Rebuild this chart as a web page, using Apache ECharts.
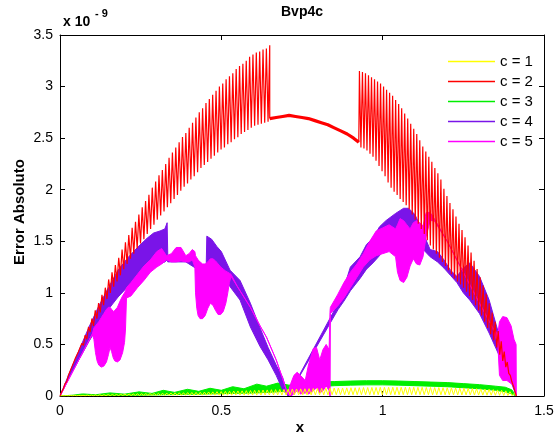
<!DOCTYPE html>
<html>
<head>
<meta charset="utf-8">
<title>Bvp4c</title>
<script src="https://cdn.jsdelivr.net/npm/echarts@6/dist/echarts.min.js"></script>
<style>
  html, body { margin: 0; padding: 0; background: #fff; }
  #chart { width: 560px; height: 438px; }
</style>
</head>
<body>
<div id="chart"></div>
<script>
// Absolute error of bvp4c solutions (units of 1e-9) for c = 1..5 over x in [0, sqrt(2)]
const seriesNames = ['c = 1', 'c = 2', 'c = 3', 'c = 4', 'c = 5'];
const seriesColors = ['#ffff00', '#ff0000', '#00ee00', '#7a14e8', '#ff00ff'];
const xTicks = [0, 0.5, 1, 1.5];
const yTicks = [0, 0.5, 1, 1.5, 2, 2.5, 3, 3.5];

// c = 1: oscillating error on an even grid
const c1Start = 0, c1Step = 0.006487;
const c1Err = [
  0,0.003,0.001,0.004,0.001,0.005,0.002,0.006,0.002,0.006,
  0.002,0.007,0.002,0.008,0.003,0.009,0.003,0.010,0.003,0.011,
  0.003,0.012,0.004,0.013,0.004,0.014,0.004,0.015,0.004,0.016,
  0.005,0.018,0.005,0.019,0.005,0.020,0.005,0.021,0.005,0.022,
  0.006,0.023,0.006,0.024,0.006,0.025,0.006,0.026,0.006,0.027,
  0.006,0.028,0.007,0.029,0.007,0.030,0.007,0.031,0.007,0.032,
  0.007,0.033,0.007,0.034,0.007,0.035,0.008,0.036,0.008,0.038,
  0.008,0.039,0.008,0.040,0.008,0.042,0.008,0.043,0.008,0.045,
  0.008,0.046,0.008,0.048,0.009,0.049,0.009,0.050,0.009,0.052,
  0.009,0.053,0.009,0.055,0.009,0.056,0.009,0.058,0.010,0.059,
  0.010,0.061,0.010,0.062,0.010,0.063,0.010,0.064,0.010,0.066,
  0.010,0.067,0.010,0.068,0.011,0.069,0.011,0.070,0.011,0.071,
  0.011,0.072,0.011,0.073,0.011,0.074,0.011,0.075,0.011,0.076,
  0.012,0.077,0.012,0.078,0.012,0.078,0.012,0.079,0.012,0.080,
  0.012,0.080,0.012,0.081,0.012,0.082,0.012,0.082,0.012,0.083,
  0.012,0.083,0.012,0.084,0.012,0.084,0.012,0.084,0.012,0.085,
  0.012,0.085,0.012,0.085,0.012,0.085,0.012,0.085,0.012,0.085,
  0.012,0.084,0.012,0.084,0.012,0.083,0.012,0.083,0.011,0.082,
  0.011,0.082,0.011,0.081,0.011,0.080,0.011,0.079,0.011,0.078,
  0.010,0.077,0.010,0.076,0.010,0.074,0.010,0.073,0.009,0.071,
  0.009,0.069,0.009,0.067,0.008,0.065,0.008,0.062,0.007,0.059,
  0.007,0.055,0.006,0.050,0.005,0.042,0.003,0.025,0.000
];

// c = 2: oscillating part on [0, 0.65]
const c2aStart = 0, c2aStep = 0.0052;
const c2aErr = [
  0,0.04,0.07,0.12,0.14,0.20,0.21,0.28,0.28,0.36,
  0.35,0.43,0.42,0.51,0.49,0.59,0.55,0.67,0.62,0.75,
  0.68,0.83,0.75,0.90,0.81,0.98,0.88,1.05,0.94,1.13,
  1.00,1.20,1.06,1.27,1.11,1.34,1.17,1.42,1.23,1.49,
  1.28,1.56,1.33,1.63,1.38,1.69,1.43,1.76,1.48,1.83,
  1.52,1.89,1.57,1.95,1.62,2.02,1.66,2.08,1.71,2.14,
  1.75,2.19,1.79,2.25,1.83,2.31,1.87,2.36,1.91,2.41,
  1.95,2.46,1.99,2.51,2.03,2.55,2.06,2.60,2.10,2.65,
  2.13,2.70,2.17,2.75,2.21,2.79,2.24,2.84,2.27,2.88,
  2.30,2.92,2.33,2.96,2.36,3.00,2.39,3.03,2.41,3.07,
  2.44,3.10,2.46,3.13,2.49,3.17,2.51,3.20,2.54,3.22,
  2.56,3.25,2.58,3.29,2.60,3.31,2.62,3.33,2.63,3.34,
  2.64,3.36,2.65,3.37,2.66,3.40
];
// c = 2: smooth middle part
const c2bX = [0.650,0.652,0.67,0.69,0.71,0.73,0.75,0.77,0.79,0.81,0.83,0.85,0.87,0.89,0.91,0.926];
const c2bErr = [2.69,2.69,2.70,2.71,2.72,2.71,2.70,2.69,2.67,2.65,2.63,2.60,2.57,2.54,2.50,2.46];
// c = 2: oscillating part on [0.928, sqrt(2)]
const c2cStart = 0.928, c2cStep = 0.004675;
const c2cErr = [
  3.15,2.41,3.14,2.40,3.13,2.38,3.11,2.35,3.09,2.32,
  3.07,2.28,3.05,2.23,3.03,2.18,3.00,2.13,2.97,2.07,
  2.94,2.02,2.91,1.98,2.87,1.95,2.83,1.91,2.79,1.88,
  2.74,1.85,2.69,1.81,2.64,1.76,2.59,1.71,2.54,1.67,
  2.48,1.62,2.42,1.57,2.37,1.51,2.32,1.46,2.27,1.42,
  2.21,1.38,2.16,1.34,2.10,1.30,2.01,1.26,1.94,1.22,
  1.87,1.18,1.81,1.14,1.74,1.11,1.67,1.08,1.61,1.05,
  1.54,1.01,1.46,0.97,1.39,0.93,1.31,0.88,1.23,0.83,
  1.15,0.78,1.07,0.72,0.99,0.66,0.90,0.60,0.81,0.54,
  0.72,0.47,0.63,0.40,0.53,0.34,0.43,0.28,0.33,0.22,
  0.20,0.14,0.10,0.05,0.00
];

// c = 3: fast oscillation, drawn as its lower / upper envelope
const c3X  = [0,0.04,0.07,0.11,0.155,0.2,0.245,0.285,0.32,0.355,0.395,0.43,0.465,0.5,0.535,0.57,0.61,0.64,0.675,0.71,0.75,0.8,0.85,0.9,0.95,1.0,1.05,1.1,1.15,1.2,1.25,1.3,1.35,1.38,1.4,1.4142];
const c3Lo = [0,0,0.002,0.003,0.005,0.006,0.008,0.01,0.012,0.014,0.016,0.018,0.02,0.022,0.025,0.027,0.03,0.035,0.04,0.05,0.07,0.09,0.1,0.105,0.108,0.108,0.105,0.1,0.095,0.09,0.08,0.07,0.055,0.04,0.02,0];
const c3Hi = [0,0.008,0.02,0.012,0.03,0.018,0.04,0.025,0.055,0.035,0.065,0.045,0.075,0.055,0.09,0.07,0.115,0.095,0.125,0.105,0.125,0.135,0.14,0.145,0.148,0.148,0.145,0.14,0.135,0.13,0.12,0.11,0.095,0.085,0.06,0];

// c = 4: envelope of the fast oscillation
const c4X  = [0,0.03,0.06,0.09,0.12,0.15,0.18,0.21,0.24,0.27,0.29,0.31,0.325,0.332,0.334,0.36,0.39,0.42,0.44,0.453,0.455,0.47,0.486,0.5,0.527,0.558,0.59,0.62,0.645,0.67,0.69,0.707,0.862,0.88,0.9,0.93,0.95,0.97,0.99,1.01,1.04,1.065,1.08,1.1,1.12,1.147,1.17,1.19,1.21,1.23,1.25,1.27,1.3,1.33,1.36,1.385,1.4,1.4142];
const c4Lo = [0,0.19,0.36,0.53,0.69,0.84,0.96,1.06,1.15,1.22,1.26,1.28,1.30,1.32,1.30,1.30,1.30,1.24,1.20,1.18,1.22,1.30,1.28,1.20,1.06,0.93,0.67,0.48,0.35,0.20,0.06,0,0.84,0.92,1.02,1.14,1.23,1.29,1.36,1.44,1.50,1.52,1.50,1.46,1.44,1.35,1.30,1.24,1.17,1.10,1.00,0.93,0.80,0.61,0.40,0.25,0.12,0];
const c4Hi = [0,0.23,0.45,0.67,0.87,1.05,1.22,1.34,1.44,1.53,1.58,1.60,1.62,1.68,1.36,1.36,1.35,1.30,1.26,1.24,1.55,1.52,1.45,1.40,1.22,1.12,0.90,0.66,0.47,0.30,0.18,0,0.90,1.05,1.25,1.35,1.47,1.53,1.64,1.70,1.77,1.82,1.82,1.76,1.62,1.42,1.40,1.32,1.22,1.16,1.24,1.29,1.16,0.93,0.60,0.38,0.22,0];

// c = 5: envelope of the fast oscillation
const c5X = [
  0,0.05,0.1,0.105,0.11,0.115,0.12,0.128,0.136,0.144,
  0.15,0.155,0.16,0.165,0.17,0.178,0.186,0.194,0.2,0.203,
  0.206,0.22,0.24,0.26,0.28,0.3,0.315,0.33,0.345,0.36,
  0.375,0.39,0.4,0.41,0.418,0.42,0.424,0.428,0.434,0.442,
  0.45,0.458,0.466,0.474,0.482,0.49,0.498,0.506,0.514,0.52,
  0.525,0.53,0.55,0.59,0.62,0.64,0.67,0.69,0.705,0.715,
  0.725,0.735,0.745,0.76,0.77,0.785,0.795,0.805,0.815,0.825,
  0.834,0.837,0.838,0.86,0.88,0.9,0.92,0.94,0.96,0.98,
  1.0,1.02,1.04,1.046,1.054,1.065,1.075,1.085,1.095,1.105,
  1.115,1.125,1.135,1.147,1.16,1.2,1.25,1.3,1.34,1.357,
  1.362,1.372,1.385,1.398,1.407,1.4135,1.4142
];
const c5Lo = [
  0,0.3,0.6,0.55,0.42,0.34,0.30,0.28,0.29,0.33,
  0.40,0.47,0.43,0.37,0.34,0.33,0.35,0.42,0.52,0.65,
  0.95,0.97,1.05,1.12,1.20,1.25,1.28,1.32,1.30,1.30,
  1.31,1.30,1.30,1.32,1.25,1.00,0.85,0.78,0.75,0.75,
  0.78,0.85,0.90,0.88,0.83,0.79,0.79,0.82,0.90,1.00,
  1.10,1.16,1.06,0.86,0.68,0.57,0.35,0.17,0.02,0,
  0.02,0.05,0.02,0.03,0.02,0.05,0.08,0.03,0.05,0.10,
  0.05,0,0.80,0.87,0.95,1.05,1.15,1.25,1.32,1.36,
  1.38,1.40,1.35,1.20,1.12,1.10,1.15,1.26,1.33,1.28,
  1.27,1.35,1.55,1.70,1.70,1.50,1.20,0.90,0.67,0.50,
  0.20,0.15,0.15,0.12,0.10,0,0
];
const c5Hi = [
  0,0.3,0.6,0.66,0.68,0.70,0.72,0.76,0.80,0.84,
  0.86,0.86,0.84,0.82,0.83,0.86,0.92,0.97,1.00,1.02,
  1.05,1.10,1.18,1.26,1.32,1.40,1.43,1.36,1.38,1.44,
  1.44,1.36,1.38,1.42,1.40,1.36,1.34,1.32,1.30,1.28,
  1.28,1.30,1.33,1.33,1.31,1.28,1.25,1.23,1.21,1.20,
  1.19,1.18,1.06,0.86,0.68,0.57,0.35,0.17,0.02,0.12,
  0.20,0.23,0.20,0.15,0.30,0.46,0.47,0.35,0.45,0.50,
  0.45,0.83,0.86,0.98,1.10,1.20,1.28,1.38,1.50,1.60,
  1.63,1.66,1.62,1.66,1.72,1.70,1.66,1.62,1.68,1.70,
  1.68,1.65,1.78,1.78,1.72,1.50,1.20,0.90,0.67,0.60,
  0.72,0.77,0.76,0.68,0.55,0.50,0
];

// ---------- helpers ----------
const FONT = 'Arial, "Liberation Sans", Helvetica, sans-serif';

function onGrid(start, step, values) {
  return values.map((v, i) => [start + i * step, v]);
}
function pairs(xs, ys) {
  return xs.map((x, i) => [x, ys[i]]);
}
function plainLine(name, data, color, width) {
  return {
    name, type: 'line', data, symbol: 'none', showSymbol: false,
    lineStyle: { color, width }, itemStyle: { color },
    animation: false, silent: true
  };
}
// Filled band between the lower and upper envelope, projected through the axes
function band(name, xs, lo, hi, color) {
  return {
    name, type: 'custom', silent: true, animation: false, clip: true,
    data: [[xs[0], lo[0]]],
    encode: { x: 0, y: 1 },
    itemStyle: { color },
    renderItem: function (params, api) {
      const pts = [];
      for (let i = 0; i < xs.length; i++) pts.push(api.coord([xs[i], hi[i]]));
      for (let i = xs.length - 1; i >= 0; i--) pts.push(api.coord([xs[i], lo[i]]));
      return {
        type: 'polygon',
        shape: { points: pts },
        style: { fill: color, stroke: color, lineWidth: 1, lineJoin: 'round' }
      };
    }
  };
}

const c2a = onGrid(c2aStart, c2aStep, c2aErr);
c2a.push([c2bX[0], c2bErr[0]]);
const c2b = pairs(c2bX, c2bErr);
const c2c = [[c2bX[c2bX.length - 1], c2bErr[c2bErr.length - 1]]].concat(onGrid(c2cStart, c2cStep, c2cErr));

const series = [
  plainLine(seriesNames[0], onGrid(c1Start, c1Step, c1Err), seriesColors[0], 1),
  plainLine(seriesNames[1], c2a, seriesColors[1], 1.2),
  plainLine(seriesNames[1], c2b, seriesColors[1], 3.2),
  plainLine(seriesNames[1], c2c, seriesColors[1], 1.2),
  band(seriesNames[2], c3X, c3Lo, c3Hi, seriesColors[2]),
  band(seriesNames[3], c4X, c4Lo, c4Hi, seriesColors[3]),
  band(seriesNames[4], c5X, c5Lo, c5Hi, seriesColors[4])
];

const axisCommon = {
  type: 'value',
  axisLine: { show: true, onZero: false, lineStyle: { color: '#000', width: 1 } },
  axisTick: { show: true, inside: true, length: 5, lineStyle: { color: '#000' } },
  splitLine: { show: false }
};

const chart = echarts.init(document.getElementById('chart'), null, { renderer: 'canvas' });
chart.setOption({
  backgroundColor: '#fff',
  animation: false,
  grid: { left: 60, right: 16, top: 35, bottom: 42 },
  xAxis: [
    Object.assign({}, axisCommon, {
      position: 'bottom', min: xTicks[0], max: xTicks[xTicks.length - 1], interval: xTicks[1] - xTicks[0],
      axisLabel: { color: '#000', fontSize: 14, fontFamily: FONT, margin: 8 }
    }),
    Object.assign({}, axisCommon, {
      position: 'top', min: xTicks[0], max: xTicks[xTicks.length - 1], interval: xTicks[1] - xTicks[0],
      axisLabel: { show: false }
    })
  ],
  yAxis: [
    Object.assign({}, axisCommon, {
      position: 'left', min: yTicks[0], max: yTicks[yTicks.length - 1], interval: yTicks[1] - yTicks[0],
      axisLabel: { color: '#000', fontSize: 14, fontFamily: FONT, margin: 7 }
    }),
    Object.assign({}, axisCommon, {
      position: 'right', min: yTicks[0], max: yTicks[yTicks.length - 1], interval: yTicks[1] - yTicks[0],
      axisLabel: { show: false }
    })
  ],
  legend: {
    data: seriesNames,
    orient: 'vertical',
    left: 443, top: 49,
    icon: 'rect',
    itemWidth: 47, itemHeight: 1.5, itemGap: 5,
    selectedMode: false,
    textStyle: { color: '#000', fontSize: 15, lineHeight: 14, fontFamily: FONT }
  },
  graphic: [
    { type: 'text', x: 302, y: 12, style: { text: 'Bvp4c', font: 'bold 14px ' + FONT, fill: '#000', textAlign: 'center', textVerticalAlign: 'middle' } },
    { type: 'text', x: 63, y: 22, style: { text: 'x 10', font: 'bold 14px ' + FONT, fill: '#000', textAlign: 'left', textVerticalAlign: 'middle' } },
    { type: 'text', x: 95, y: 14, style: { text: '- 9', font: 'bold 11px ' + FONT, fill: '#000', textAlign: 'left', textVerticalAlign: 'middle' } },
    { type: 'text', x: 20, y: 212, rotation: Math.PI / 2, style: { text: 'Error Absoluto', font: 'bold 15px ' + FONT, fill: '#000', textAlign: 'center', textVerticalAlign: 'middle' } },
    { type: 'text', x: 300, y: 428, style: { text: 'x', font: 'bold 15px ' + FONT, fill: '#000', textAlign: 'center', textVerticalAlign: 'middle' } }
  ],
  series
});
</script>
</body>
</html>
